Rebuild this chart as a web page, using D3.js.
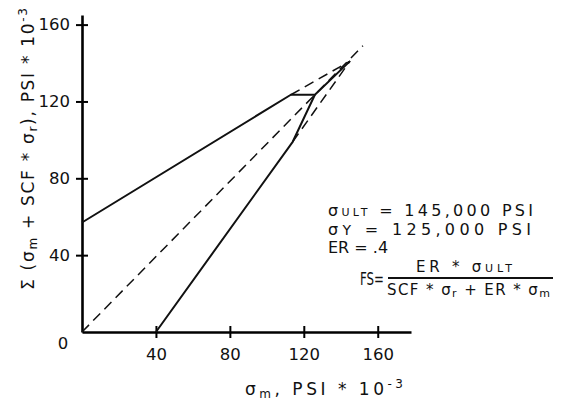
<!DOCTYPE html>
<html>
<head>
<meta charset="utf-8">
<script src="https://cdn.jsdelivr.net/npm/d3@7"></script>
<style>
  body { margin: 0; background: #fff; }
  text { font-family: "DejaVu Sans", sans-serif; fill: #111; }
</style>
</head>
<body>
<div id="chart-div"></div>
<script>
// tick values, shared by both axes
const xTicks = [40, 80, 120, 160];
const yTicks = [40, 80, 120, 160];

// solid curves
const upperX = [0, 113, 126, 145];
const upperY = [57, 123.5, 123.5, 141];
const lowerX = [40, 114, 126];
const lowerY = [0, 99, 123.5];

// dashed lines
const diagX = [0, 152];
const diagY = [0, 149];
const upperExtX = [113, 145];
const upperExtY = [123.5, 141];
const lowerExtX = [114, 145];
const lowerExtY = [99, 141];

const zip = (xs, ys) => xs.map((x, i) => [x, ys[i]]);

const svgDims = { width: 566, height: 403 };

const svg = d3.select("#chart-div")
    .append("svg")
    .attr("width", svgDims.width)
    .attr("height", svgDims.height);

const xScale = d3.scaleLinear().domain([0, 178]).range([82, 411]);
const yScale = d3.scaleLinear().domain([0, 165]).range([332, 15]);

// axes with ticks crossing the line
const yAxis = svg.append("g")
    .attr("transform", "translate(" + xScale(0) + ",0)")
    .call(d3.axisLeft(yScale).tickValues(yTicks).tickSize(6).tickSizeOuter(0).tickPadding(6));
yAxis.selectAll(".tick line").attr("x1", 6).attr("stroke-width", 2);
yAxis.select(".domain").attr("stroke-width", 2.6);
yAxis.selectAll(".tick text").style("font-size", "16.5px").attr("fill", "#111");

const xAxis = svg.append("g")
    .attr("transform", "translate(0," + yScale(0) + ")")
    .call(d3.axisBottom(xScale).tickValues(xTicks).tickSize(6).tickSizeOuter(0).tickPadding(10));
xAxis.selectAll(".tick line").attr("y1", -6).attr("stroke-width", 2);
xAxis.select(".domain").attr("stroke-width", 2.6);
xAxis.selectAll(".tick text").style("font-size", "16.5px").attr("fill", "#111");

// the shared zero at the origin
svg.append("text")
    .attr("x", 63).attr("y", 343)
    .attr("text-anchor", "middle").attr("dominant-baseline", "central")
    .style("font-size", "16.5px")
    .text("0");

const line = d3.line().x(d => xScale(d[0])).y(d => yScale(d[1]));

// dashed lines
[zip(diagX, diagY), zip(upperExtX, upperExtY), zip(lowerExtX, lowerExtY)].forEach(pts => {
    svg.append("path")
        .attr("d", line(pts))
        .attr("fill", "none")
        .attr("stroke", "#111")
        .attr("stroke-width", 1.5)
        .attr("stroke-dasharray", "10,6");
});

// solid curves
[zip(upperX, upperY), zip(lowerX, lowerY)].forEach(pts => {
    svg.append("path")
        .attr("d", line(pts))
        .attr("fill", "none")
        .attr("stroke", "#111")
        .attr("stroke-width", 2)
        .attr("stroke-linejoin", "round");
});

// axis titles
const xTitle = svg.append("text")
    .attr("x", 245).attr("y", 395)
    .attr("textLength", 158)
    .style("font-size", "17px");
xTitle.append("tspan").text("σ");
xTitle.append("tspan").attr("dy", 3).style("font-size", "12px").text("m");
xTitle.append("tspan").attr("dy", -3).text(", PSI * 10");
xTitle.append("tspan").attr("dy", -7).style("font-size", "12px").text("-3");

const yTitle = svg.append("text")
    .attr("transform", "translate(34,290) rotate(-90)")
    .attr("textLength", 282)
    .style("font-size", "17px");
yTitle.append("tspan").text("Σ (σ");
yTitle.append("tspan").attr("dy", 3).style("font-size", "12px").text("m");
yTitle.append("tspan").attr("dy", -3).text(" + SCF * σ");
yTitle.append("tspan").attr("dy", 3).style("font-size", "12px").text("r");
yTitle.append("tspan").attr("dy", -3).text("), PSI * 10");
yTitle.append("tspan").attr("dy", -7).style("font-size", "12px").text("-3");

// material properties
const t1 = svg.append("text").attr("x", 328).attr("y", 216).attr("textLength", 205).style("font-size", "16px");
t1.append("tspan").text("σ");
t1.append("tspan").style("font-size", "11px").text("ULT");
t1.append("tspan").text(" = 145,000  PSI");

const t2 = svg.append("text").attr("x", 328).attr("y", 235).attr("textLength", 203).style("font-size", "16px");
t2.append("tspan").text("σ");
t2.append("tspan").style("font-size", "14px").text("Y");
t2.append("tspan").text(" = 125,000 PSI");

svg.append("text").attr("x", 328).attr("y", 253)
    .style("font-size", "16px").text("ER = .4");

svg.append("text").attr("x", 360).attr("y", 285)
    .attr("textLength", 24).attr("lengthAdjust", "spacingAndGlyphs")
    .style("font-size", "17px").text("FS=");

const num = svg.append("text").attr("x", 416).attr("y", 272).attr("textLength", 96).style("font-size", "15px");
num.append("tspan").text("ER * σ");
num.append("tspan").style("font-size", "11px").text("ULT");

svg.append("line")
    .attr("x1", 388).attr("x2", 553)
    .attr("y1", 278).attr("y2", 278)
    .attr("stroke", "#111").attr("stroke-width", 1.8);

const den = svg.append("text").attr("x", 387).attr("y", 295).attr("textLength", 163).style("font-size", "15px");
den.append("tspan").text("SCF * σ");
den.append("tspan").attr("dy", 2).style("font-size", "11px").text("r");
den.append("tspan").attr("dy", -2).text(" + ER * σ");
den.append("tspan").attr("dy", 2).style("font-size", "11px").text("m");
</script>
</body>
</html>
